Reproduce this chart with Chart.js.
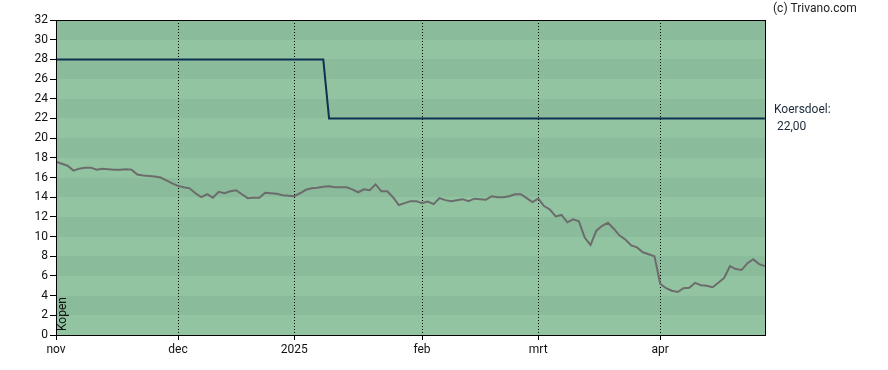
<!DOCTYPE html>
<html>
<head>
<meta charset="utf-8">
<script src="https://cdn.jsdelivr.net/npm/chart.js@4"></script>
<style>
  html, body { margin: 0; padding: 0; background: #fff; }
  #wrap { width: 888px; height: 370px; }
</style>
</head>
<body>
<div id="wrap"><canvas id="myChart" width="888" height="370"></canvas></div>
<script>
const ctx = document.getElementById('myChart');

// koers per handelsdag, 1 nov 2024 t/m eind april 2025
const prices = [
    17.6, 17.4, 17.2, 16.7, 16.9, 17.0, 17.0, 16.8, 16.9, 16.85,
    16.8, 16.8, 16.85, 16.8, 16.3, 16.2, 16.15, 16.1, 16.0, 15.7,
    15.4, 15.15, 15.0, 14.9, 14.4, 14.0, 14.3, 13.95, 14.55, 14.4,
    14.6, 14.7, 14.3, 13.9, 13.95, 13.95, 14.45, 14.4, 14.35, 14.2,
    14.15, 14.1, 14.4, 14.75, 14.9, 14.95, 15.05, 15.1, 15.0, 15.0,
    15.0, 14.8, 14.5, 14.8, 14.7, 15.3, 14.6, 14.6, 14.0, 13.2,
    13.4, 13.6, 13.6, 13.4, 13.55, 13.3, 13.9, 13.7, 13.6, 13.7,
    13.8, 13.6, 13.85, 13.8, 13.75, 14.1, 14.0, 14.0, 14.1, 14.3,
    14.3, 13.9, 13.5, 13.85, 13.1, 12.75, 12.05, 12.2, 11.45, 11.75,
    11.55, 9.9, 9.15, 10.6, 11.1, 11.4, 10.8, 10.1, 9.7, 9.1,
    8.9, 8.4, 8.2, 8.0, 5.2, 4.75, 4.5, 4.37, 4.75, 4.8,
    5.3, 5.05, 5.0, 4.85, 5.3, 5.8, 7.0, 6.7, 6.6, 7.3,
    7.7, 7.2, 7.0
];

// koersdoel: 28 tot half januari, daarna 22
const targetChangeIndex = 47;
const targetBefore = 28;
const targetAfter = 22;
const target = prices.map((_, i) => i < targetChangeIndex ? targetBefore : targetAfter);

const monthLabels = ['nov', 'dec', '2025', 'feb', 'mrt', 'apr'];
const monthIndex = [0, 21, 41, 63, 83, 104];

const yTicks = [0, 2, 4, 6, 8, 10, 12, 14, 16, 18, 20, 22, 24, 26, 28, 30, 32];

const adviceLabel = 'Kopen';
const targetLabel = 'Koersdoel:';
const targetValueLabel = '22,00';
const copyright = '(c) Trivano.com';

const FONT = 'Roboto, "Liberation Sans", Arial, sans-serif';

const bandsPlugin = {
    id: 'bands',
    beforeDraw(chart) {
        const c = chart.ctx;
        const area = chart.chartArea;
        const y = chart.scales.y;
        c.save();
        for (let v = 0; v < 32; v += 2) {
            const top = Math.round(y.getPixelForValue(v + 2));
            const bottom = Math.round(y.getPixelForValue(v));
            c.fillStyle = (v % 4 === 2) ? '#8abb9a' : '#92c4a2';
            c.fillRect(Math.round(area.left), top, Math.round(area.right - area.left), bottom - top);
        }
        c.restore();
    },
    afterDraw(chart) {
        const c = chart.ctx;
        const area = chart.chartArea;
        const y = chart.scales.y;
        c.save();
        c.strokeStyle = '#000';
        c.lineWidth = 1;
        c.strokeRect(area.left + 0.5, area.top + 0.5, area.right - area.left - 1, area.bottom - area.top);

        c.fillStyle = '#222';
        c.font = '12px ' + FONT;
        c.textBaseline = 'middle';
        c.textAlign = 'left';
        c.fillText(copyright, 773, 9);

        const ty = y.getPixelForValue(targetAfter);
        c.fillStyle = '#1a2a3a';
        c.fillText(targetLabel, 774, ty - 8);
        c.fillText(targetValueLabel, 777, ty + 9);

        c.fillStyle = '#111';
        c.translate(area.left + 7, area.bottom - 4);
        c.rotate(-Math.PI / 2);
        c.textAlign = 'left';
        c.fillText(adviceLabel, 0, 0);
        c.restore();
    }
};

const data = {
    labels: prices.map((_, i) => i),
    datasets: [
        {
            label: 'Koersdoel',
            data: target.map((v, i) => ({ x: i, y: v })),
            borderColor: '#0d3150',
            borderWidth: 2,
            pointRadius: 0,
            tension: 0
        },
        {
            label: 'Koers',
            data: prices.map((v, i) => ({ x: i, y: v })),
            borderColor: '#6c6c6c',
            borderWidth: 2,
            pointRadius: 0,
            tension: 0
        }
    ]
};

const config = {
    type: 'line',
    data: data,
    plugins: [bandsPlugin],
    options: {
        responsive: false,
        animation: false,
        layout: { padding: { top: 20, right: 122, left: 0, bottom: 0 } },
        plugins: {
            legend: { display: false },
            tooltip: { enabled: false }
        },
        scales: {
            x: {
                type: 'linear',
                min: 0,
                max: 122.2,
                afterFit: s => { s.height = 35; },
                afterBuildTicks: s => { s.ticks = monthIndex.map(v => ({ value: v })); },
                border: { display: false, dash: [1, 2] },
                grid: {
                    color: c => (c.tick && c.tick.value === 0) ? 'rgba(0,0,0,0)' : '#000',
                    tickColor: '#000',
                    tickBorderDash: [],
                    tickLength: 5,
                    lineWidth: 1
                },
                ticks: {
                    color: '#111',
                    font: { family: FONT, size: 12 },
                    padding: 3,
                    maxRotation: 0,
                    autoSkip: false,
                    callback: v => monthLabels[monthIndex.indexOf(v)]
                }
            },
            y: {
                min: 0,
                max: 32,
                afterFit: s => { s.width = 56; },
                afterBuildTicks: s => { s.ticks = yTicks.map(v => ({ value: v })); },
                border: { display: false },
                grid: {
                    drawOnChartArea: false,
                    tickColor: '#000',
                    tickLength: 6
                },
                ticks: {
                    color: '#111',
                    font: { family: FONT, size: 12 },
                    padding: 2
                }
            }
        }
    }
};

const chart = new Chart(ctx, config);
</script>
</body>
</html>
